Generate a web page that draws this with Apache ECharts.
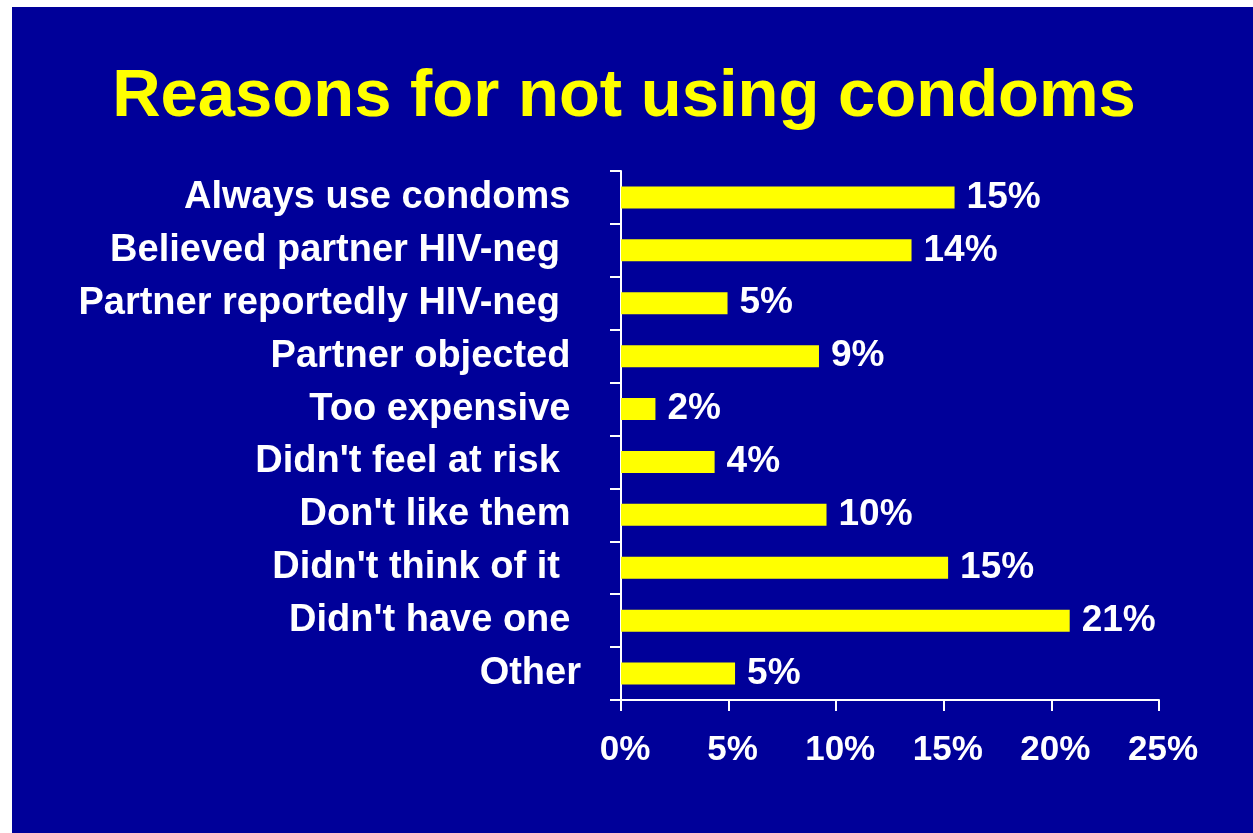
<!DOCTYPE html>
<html>
<head>
    <meta charset="utf-8">
    <title>Reasons for not using condoms</title>
    <script src="https://cdn.jsdelivr.net/npm/echarts@6/dist/echarts.min.js"></script>
    <style type="text/css">
        html, body {
            margin: 0;
            height: 100%;
            background: #ffffff;
        }
        #main {
            position: absolute;
            left: 12px;
            top: 7px;
            width: 1241px;
            height: 826px;
        }
    </style>
</head>
<body>
<div id="main"></div>
<script type="text/javascript">
    // categories, top to bottom (trailing spaces as in the slide)
    var reasons = [
        'Always use condoms ',
        'Believed partner HIV-neg  ',
        'Partner reportedly HIV-neg  ',
        'Partner objected ',
        'Too expensive ',
        "Didn't feel at risk  ",
        "Don't like them ",
        "Didn't think of it  ",
        "Didn't have one ",
        'Other'
    ];
    // bar lengths in percent
    var percents = [15.5, 13.5, 4.95, 9.2, 1.6, 4.35, 9.55, 15.2, 20.85, 5.3];
    // value labels as printed on the slide
    var valueLabels = ['15%', '14%', '5%', '9%', '2%', '4%', '10%', '15%', '21%', '5%'];
    var xTicks = [0, 5, 10, 15, 20, 25];

    var fontFamily = '"Liberation Sans", Arial, sans-serif';
    var myChart = echarts.init(document.getElementById('main'));

    var option = {
        backgroundColor: '#000099',
        title: {
            text: 'Reasons for not using condoms',
            left: 607,
            top: 52,
            textAlign: 'center',
            textStyle: {
                color: '#ffff00',
                fontSize: 67,
                fontWeight: 'bold',
                fontFamily: fontFamily
            }
        },
        grid: {
            left: 609,
            right: 94,
            top: 164,
            bottom: 133,
            containLabel: false
        },
        xAxis: {
            type: 'value',
            min: xTicks[0],
            max: xTicks[xTicks.length - 1],
            interval: 5,
            splitLine: { show: false },
            axisLine: { show: true, lineStyle: { color: '#ffffff', width: 2 } },
            axisTick: { show: true, length: 11, lineStyle: { color: '#ffffff', width: 2 } },
            axisLabel: {
                color: '#ffffff',
                fontSize: 35,
                fontWeight: 'bold',
                fontFamily: fontFamily,
                margin: 33,
                padding: [0, 0, 0, 8],
                formatter: '{value}%'
            }
        },
        yAxis: {
            type: 'category',
            inverse: true,
            data: reasons,
            axisLine: { show: true, lineStyle: { color: '#ffffff', width: 2 } },
            axisTick: { show: true, length: 11, lineStyle: { color: '#ffffff', width: 2 } },
            axisLabel: {
                color: '#ffffff',
                fontSize: 38,
                fontWeight: 'bold',
                fontFamily: fontFamily,
                margin: 40
            }
        },
        series: [{
            type: 'bar',
            data: percents,
            barWidth: 22,
            itemStyle: { color: '#ffff00' },
            label: {
                show: true,
                position: 'right',
                distance: 12,
                color: '#ffffff',
                fontSize: 37,
                fontWeight: 'bold',
                fontFamily: fontFamily,
                formatter: function (p) {
                    return valueLabels[p.dataIndex];
                }
            }
        }]
    };

    myChart.setOption(option);

    window.addEventListener('resize', function () {
        myChart.resize();
    });
</script>
</body>
</html>
